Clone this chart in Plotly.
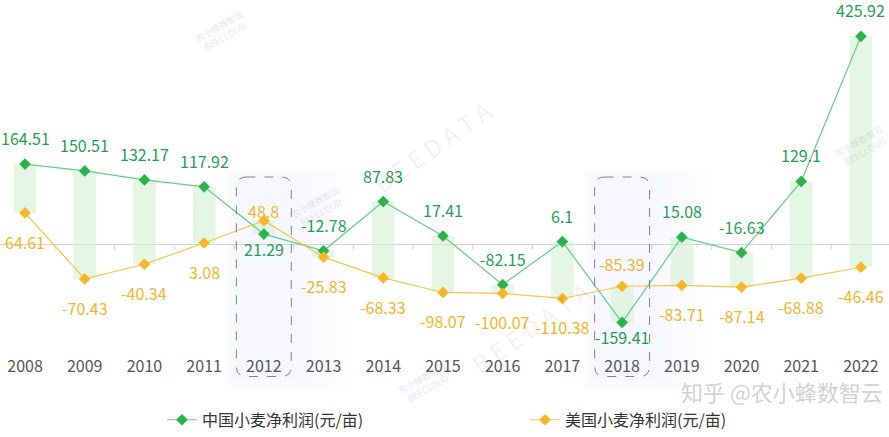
import plotly.graph_objects as go

# ---------------- data ----------------
years = ["2008", "2009", "2010", "2011", "2012", "2013", "2014", "2015",
         "2016", "2017", "2018", "2019", "2020", "2021", "2022"]
china_profit = [164.51, 150.51, 132.17, 117.92, 21.29, -12.78, 87.83, 17.41,
                -82.15, 6.1, -159.41, 15.08, -16.63, 129.1, 425.92]
us_profit = [64.61, -70.43, -40.34, 3.08, 48.8, -25.83, -68.33, -98.07,
             -100.07, -110.38, -85.39, -83.71, -87.14, -68.88, -46.46]
china_name = "中国小麦净利润(元/亩)"
us_name = "美国小麦净利润(元/亩)"
highlight_years = ["2012", "2018"]

# ---------------- style ----------------
FONT = "Noto Sans CJK SC"
GREEN_MK = "#2bb24c"
GREEN_LN = "#62cf80"
GREEN_TX = "#1f9e52"
YEL_MK = "#f6b626"
YEL_LN = "#f4c44a"
YEL_TX = "#f1b52a"
BAR_C = "rgba(214,240,210,0.6)"

W, H = 889, 437
TOP = 3             # top margin px
PH = 360            # plot-area height in px
XR = [-0.419, 14.47]
YR = [-226, 494]

fig = go.Figure()

# floating bars spanning the gap between the two series
fig.add_trace(go.Bar(
    x=years,
    y=[c - u for c, u in zip(china_profit, us_profit)],
    base=us_profit,
    width=0.38,
    marker=dict(color=BAR_C, line=dict(width=0)),
    showlegend=False,
    hoverinfo="skip",
))

fig.add_trace(go.Scatter(
    x=years, y=china_profit, name=china_name, mode="lines+markers",
    line=dict(color=GREEN_LN, width=1.2),
    marker=dict(symbol="diamond", size=9, color=GREEN_MK),
))
fig.add_trace(go.Scatter(
    x=years, y=us_profit, name=us_name, mode="lines+markers",
    line=dict(color=YEL_LN, width=1.2),
    marker=dict(symbol="diamond", size=9, color=YEL_MK),
))

annotations = []
for i, yr in enumerate(years):
    hl = yr in highlight_years
    annotations.append(dict(
        x=i, y=china_profit[i], xref="x", yref="y",
        text=f"{china_profit[i]:g}", showarrow=False,
        yshift=(-15 if hl else 26),
        font=dict(family=FONT, size=16, color=GREEN_TX),
    ))
    us_shift = -29
    if yr == "2012":
        us_shift = 10
    elif yr == "2018":
        us_shift = 22
    annotations.append(dict(
        x=i, y=us_profit[i], xref="x", yref="y",
        text=f"{us_profit[i]:g}", showarrow=False,
        yshift=us_shift,
        font=dict(family=FONT, size=16, color=YEL_TX),
    ))


def px_x(px):
    return px / W


def px_y(py):
    return 1 - (py - TOP) / PH


# watermarks
annotations += [
    dict(x=px_x(432), y=px_y(150), xref="paper", yref="paper", text="B E E D A T A",
         showarrow=False, textangle=-35, xanchor="center", yanchor="middle",
         font=dict(family=FONT, size=24, color="rgba(0,0,0,0.07)")),
    dict(x=px_x(530), y=px_y(335), xref="paper", yref="paper", text="B E E D A T A",
         showarrow=False, textangle=-35, xanchor="center", yanchor="middle",
         font=dict(family=FONT, size=24, color="rgba(0,0,0,0.06)")),
    dict(x=px_x(782), y=px_y(400), xref="paper", yref="paper", text="知乎 @农小蜂数智云",
         showarrow=False, xanchor="center", yanchor="middle",
         font=dict(family=FONT, size=22, color="rgba(150,150,150,0.45)")),
]
for (lx, ly) in [(222, 32), (318, 212), (425, 392), (862, 150)]:
    annotations.append(dict(
        x=px_x(lx), y=px_y(ly), xref="paper", yref="paper",
        text="农小蜂数智云<br>BEECLOUD", showarrow=False, textangle=-30,
        xanchor="center", yanchor="middle",
        font=dict(family=FONT, size=9, color="rgba(140,150,210,0.28)"),
    ))

# highlight boxes (paper coordinates derived from the category axis range)
def x_to_paper(v):
    return (v - XR[0]) / (XR[1] - XR[0])


shapes = []
for yr in highlight_years:
    idx = years.index(yr)
    x0 = x_to_paper(idx - 0.46)
    x1 = x_to_paper(idx + 0.46)
    y0 = px_y(385)
    y1 = px_y(181)
    # soft glow
    for k in range(8):
        pad = 5 * (k + 1)
        shapes.append(dict(
            type="rect", xref="paper", yref="paper", layer="below",
            x0=x0 - (pad * 0.3) / W, x1=x1 + (pad * 1.5) / W,
            y0=y0 - (pad * 0.4) / PH, y1=y1 + (pad * 0.2) / PH,
            fillcolor="rgba(160,175,255,0.015)", line=dict(width=0),
        ))
    r = 10
    rx = r / W
    ry = r / PH
    path = (f"M {x0 + rx} {y1} L {x1 - rx} {y1} Q {x1} {y1} {x1} {y1 - ry} "
            f"L {x1} {y0 + ry} Q {x1} {y0} {x1 - rx} {y0} "
            f"L {x0 + rx} {y0} Q {x0} {y0} {x0} {y0 + ry} "
            f"L {x0} {y1 - ry} Q {x0} {y1} {x0 + rx} {y1} Z")
    shapes.append(dict(type="path", path=path, xref="paper", yref="paper",
                       line=dict(color="#7a8196", width=1, dash="dash"),
                       fillcolor="rgba(0,0,0,0)", layer="above"))

# small ticks on the zero line between categories
for k in range(len(years) - 1):
    shapes.append(dict(type="line", xref="x", yref="y", x0=k + 0.5, x1=k + 0.5,
                       y0=0, y1=-10, line=dict(color="#cfcfcf", width=1), layer="below"))

fig.update_layout(
    width=W, height=H,
    margin=dict(l=0, r=0, t=TOP, b=H - PH - TOP),
    paper_bgcolor="white", plot_bgcolor="rgba(0,0,0,0)",
    font=dict(family=FONT, size=16, color="#333333"),
    barmode="overlay",
    showlegend=True,
    legend=dict(orientation="h", x=162 / W, xanchor="left", y=-0.136, yanchor="top",
                font=dict(family=FONT, size=16, color="#333333"),
                entrywidth=318, entrywidthmode="pixels",
                bgcolor="rgba(0,0,0,0)", traceorder="normal"),
    annotations=annotations,
    shapes=shapes,
    xaxis=dict(type="category", range=XR, showgrid=False, zeroline=False,
               showline=False, ticks="", automargin=False,
               tickfont=dict(family=FONT, size=16, color="#555555")),
    yaxis=dict(range=YR, showgrid=False, zeroline=True, zerolinecolor="#d2d2d2",
               zerolinewidth=1, showticklabels=False, showline=False, ticks="",
               automargin=False),
)

fig.write_html("out.html")
